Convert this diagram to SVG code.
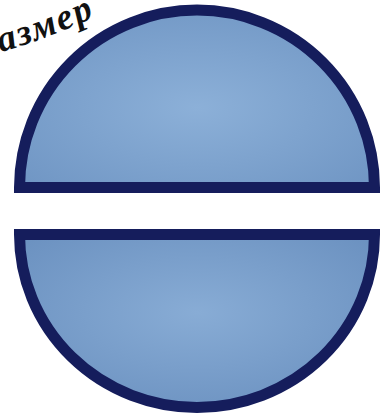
<svg xmlns="http://www.w3.org/2000/svg" width="388" height="417" viewBox="0 0 388 417">
  <style>
    .half { stroke: #151d5c; stroke-width: 11; stroke-linejoin: miter; }
    .label { font-family: "Liberation Serif", "DejaVu Serif", serif; font-style: italic; font-weight: bold; font-size: 37px; fill: #111; letter-spacing: 2px; }
  </style>
  <defs>
    <radialGradient id="gTop" cx="0.5" cy="0.55" r="0.65">
      <stop offset="0" stop-color="#8cb0d8"/>
      <stop offset="1" stop-color="#7096c4"/>
    </radialGradient>
    <radialGradient id="gBot" cx="0.5" cy="0.45" r="0.65">
      <stop offset="0" stop-color="#88acd5"/>
      <stop offset="1" stop-color="#6b91c0"/>
    </radialGradient>
    <path id="textArc" d="M 1 52 Q 45 40 106 12"/>
  </defs>
  <rect width="388" height="417" fill="#ffffff"/>
  <g id="top-half">
    <path class="half" fill="url(#gTop)" d="M 19.5 187.5 A 177.5 177.5 0 0 1 374.5 187.5 Z"/>
  </g>
  <g id="bottom-half">
    <path class="half" fill="url(#gBot)" d="M 19.5 234.5 A 177.5 173 0 0 0 374.5 234.5 Z"/>
  </g>
  <g id="label">
    <text class="label"><textPath href="#textArc">азмер</textPath></text>
  </g>
</svg>
